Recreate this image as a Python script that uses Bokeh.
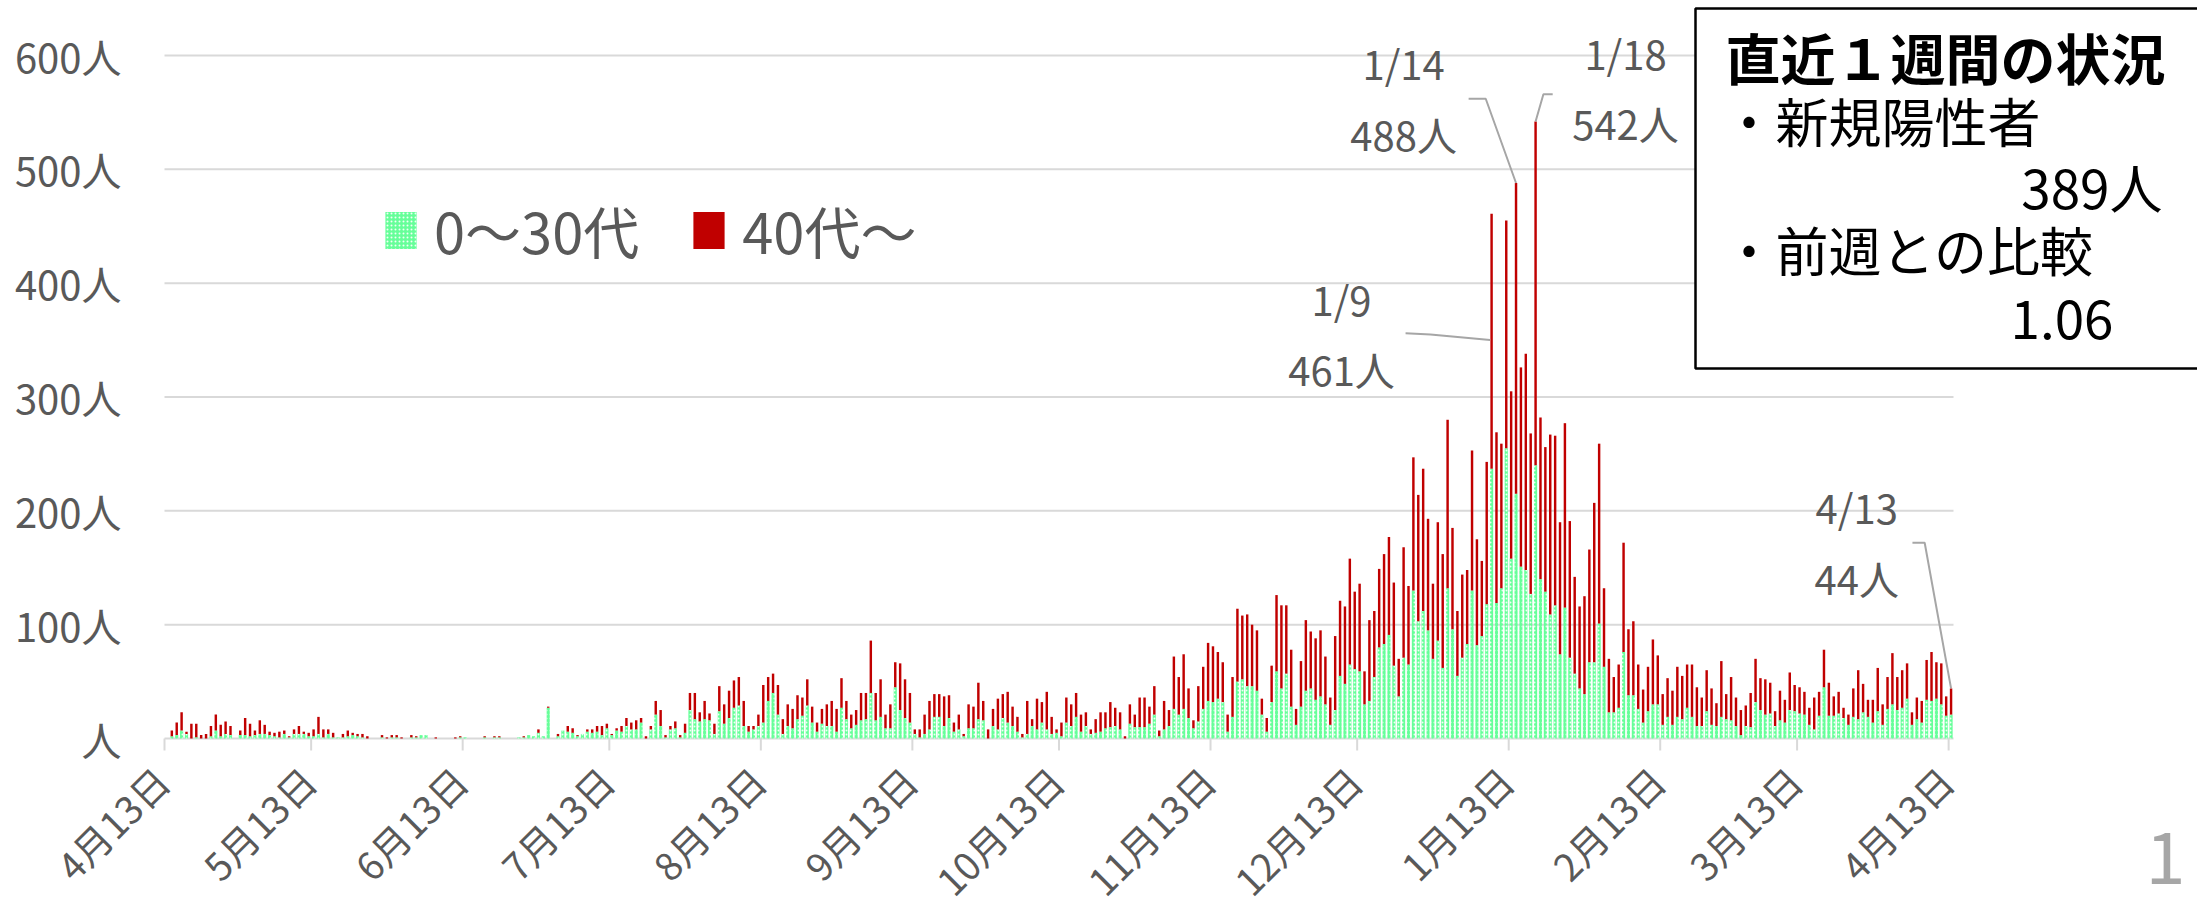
import math
import pandas as pd
from bokeh.plotting import figure
from bokeh.models import Range1d, Legend, LegendItem
from bokeh.core.properties import value
from bokeh.embed import file_html
from bokeh.resources import INLINE

# ---------------- data ----------------
start_date = "2020-04-13"

# daily total of new positives (bar top)
total = [
    0, 7, 14, 23, 6, 13, 13, 3, 4, 11,
    21, 12, 15, 11, 0, 7, 18, 13, 7, 16,
    12, 6, 5, 6, 7, 2, 8, 11, 6, 5,
    8, 19, 8, 8, 5, 1, 4, 7, 5, 4,
    4, 2, 0, 0, 3, 1, 3, 3, 1, 0,
    3, 2, 3, 3, 0, 1, 0, 0, 0, 1,
    2, 1, 0, 0, 0, 2, 0, 2, 2, 0,
    0, 0, 1, 2, 3, 2, 8, 2, 28, 0,
    4, 7, 11, 9, 3, 4, 8, 8, 11, 11,
    13, 4, 9, 11, 18, 14, 16, 18, 2, 11,
    33, 25, 3, 11, 15, 3, 13, 40, 40, 23,
    33, 22, 13, 46, 30, 42, 51, 54, 33, 11,
    11, 21, 47, 54, 57, 47, 17, 30, 26, 38,
    36, 52, 28, 14, 26, 30, 33, 26, 53, 33,
    21, 25, 40, 40, 86, 40, 52, 21, 30, 67,
    66, 52, 40, 8, 8, 21, 33, 39, 39, 37,
    38, 14, 21, 4, 30, 28, 49, 33, 8, 26,
    35, 39, 41, 28, 19, 4, 33, 17, 35, 32,
    41, 19, 8, 14, 36, 30, 40, 21, 23, 8,
    17, 23, 23, 32, 27, 23, 2, 30, 21, 36,
    36, 28, 46, 7, 33, 25, 72, 54, 74, 44,
    16, 46, 63, 84, 81, 76, 67, 21, 54, 114,
    108, 109, 100, 95, 35, 18, 64, 126, 117, 117,
    78, 26, 68, 104, 94, 88, 95, 72, 36, 90,
    121, 116, 158, 129, 136, 59, 104, 112, 149, 162,
    177, 137, 70, 168, 134, 247, 214, 237, 193, 136,
    190, 162, 280, 185, 112, 144, 148, 253, 175, 156,
    243, 461, 269, 259, 455, 305, 488, 326, 338, 268,
    542, 282, 256, 267, 266, 190, 277, 191, 142, 116,
    125, 166, 207, 259, 132, 70, 54, 65, 172, 96,
    103, 65, 43, 63, 87, 73, 39, 53, 42, 63,
    55, 65, 65, 45, 36, 60, 44, 31, 68, 39,
    54, 36, 25, 29, 40, 70, 53, 52, 49, 24,
    42, 34, 58, 47, 45, 41, 27, 36, 41, 78,
    49, 37, 41, 27, 21, 44, 60, 48, 34, 34,
    62, 30, 54, 75, 54, 60, 66, 23, 36, 33,
    69, 76, 67, 66, 37, 44,
]

# daily positives aged 0-30s (lower, green part of each bar)
under30 = [
    0, 2, 3, 7, 4, 0, 1, 0, 0, 2,
    7, 2, 4, 3, 0, 3, 3, 2, 3, 4,
    4, 3, 2, 1, 4, 1, 4, 4, 4, 2,
    2, 4, 1, 4, 1, 1, 1, 2, 3, 2,
    1, 0, 0, 0, 1, 0, 1, 1, 0, 0,
    1, 1, 3, 3, 0, 0, 0, 0, 0, 0,
    1, 1, 0, 0, 0, 1, 0, 1, 1, 0,
    0, 0, 1, 1, 3, 2, 5, 2, 27, 0,
    2, 7, 6, 5, 2, 4, 6, 5, 6, 3,
    9, 3, 7, 6, 11, 8, 8, 14, 0, 8,
    21, 11, 1, 8, 9, 1, 5, 25, 17, 15,
    17, 16, 4, 24, 13, 18, 27, 29, 11, 6,
    8, 11, 14, 33, 40, 21, 4, 11, 9, 17,
    20, 29, 14, 6, 13, 11, 11, 6, 27, 17,
    9, 12, 16, 17, 40, 16, 19, 9, 9, 45,
    25, 18, 14, 4, 1, 4, 8, 19, 19, 11,
    18, 6, 8, 2, 9, 9, 17, 16, 0, 11,
    8, 18, 14, 11, 6, 1, 4, 11, 8, 14,
    8, 4, 5, 2, 14, 11, 19, 6, 11, 4,
    5, 6, 9, 10, 11, 8, 0, 13, 10, 10,
    10, 13, 21, 2, 8, 11, 26, 21, 26, 18,
    9, 15, 26, 33, 32, 35, 32, 6, 19, 50,
    52, 46, 46, 42, 21, 6, 32, 59, 44, 57,
    28, 12, 28, 42, 44, 34, 37, 30, 12, 25,
    55, 48, 65, 61, 59, 30, 33, 54, 80, 83,
    91, 64, 37, 71, 65, 130, 103, 112, 95, 70,
    86, 62, 132, 96, 55, 71, 83, 130, 82, 90,
    118, 237, 119, 132, 255, 158, 215, 151, 148, 127,
    240, 140, 129, 109, 117, 74, 115, 71, 57, 44,
    39, 67, 67, 101, 63, 23, 23, 27, 76, 38,
    38, 26, 14, 24, 30, 30, 12, 19, 12, 19,
    17, 27, 19, 11, 11, 24, 12, 11, 19, 17,
    16, 11, 3, 11, 10, 32, 25, 21, 22, 11,
    16, 14, 25, 24, 22, 21, 12, 8, 20, 45,
    20, 20, 22, 18, 12, 19, 17, 23, 19, 14,
    24, 12, 26, 30, 25, 27, 35, 12, 17, 14,
    34, 33, 35, 30, 20, 21,
]

series_names = ["0～30代", "40代～"]

tick_dates = ["2020-04-13", "2020-05-13", "2020-06-13", "2020-07-13",
              "2020-08-13", "2020-09-13", "2020-10-13", "2020-11-13",
              "2020-12-13", "2021-01-13", "2021-02-13", "2021-03-13",
              "2021-04-13"]
tick_labels = ["4月13日", "5月13日", "6月13日", "7月13日", "8月13日",
               "9月13日", "10月13日", "11月13日", "12月13日", "1月13日",
               "2月13日", "3月13日", "4月13日"]

y_ticks = [0, 100, 200, 300, 400, 500, 600]
y_labels = ["人", "100人", "200人", "300人", "400人", "500人", "600人"]

callout_dates = ["2021-01-09", "2021-01-14", "2021-01-18", "2021-04-13"]
callout_date_text = ["1/9", "1/14", "1/18", "4/13"]
callout_count_text = ["461人", "488人", "542人", "44人"]

box_title = "直近１週間の状況"
box_lines = ["・新規陽性者", "389人", "・前週との比較", "1.06"]
page_number = "1"

# ---------------- styling / layout ----------------
FONT = "Noto Sans CJK JP"
GRAY = "#595959"
GREEN = "#66FF99"
RED = "#C00000"
GRID = "#D9D9D9"
LEADER = "#A6A6A6"

W, H = 2197, 906          # canvas
X0, Y0 = 164, 738         # canvas px of (day 0, value 0)
PXD = 4.888               # px per day
PXU = 683 / 600           # px per person


def dx(px):
    return (px - X0) / PXD


def dy(py):
    return (Y0 - py) / PXU


dates = pd.date_range(start_date, periods=len(total), freq="D")
t0 = dates[0]
xpos = [(d - t0).days + 0.5 for d in dates]
tick_pos = [(pd.Timestamp(d) - t0).days for d in tick_dates]
n_days = len(total)

p = figure(width=W, height=H, x_range=Range1d(dx(0), dx(W)),
           y_range=Range1d(dy(H), dy(0)), output_backend="svg",
           toolbar_location=None, x_axis_location=None, y_axis_location=None,
           min_border=0)
p.outline_line_color = None
p.background_fill_color = "white"
p.border_fill_color = "white"
p.grid.visible = False

# horizontal gridlines
grid_vals = y_ticks[1:]
p.segment(x0=[0] * len(grid_vals), x1=[n_days] * len(grid_vals),
          y0=grid_vals, y1=grid_vals, line_color=GRID, line_width=2)

# y tick labels
p.text(x=[dx(121)] * len(y_ticks), y=y_ticks, text=y_labels,
       text_align="right", text_baseline="middle",
       text_font=value(FONT), text_font_size=value("40px"), text_color=GRAY)

# x axis line, tick marks, tick labels
p.segment(x0=[0], x1=[n_days], y0=[0], y1=[0], line_color=GRID, line_width=2)
tick_len = 12 / PXU
p.segment(x0=tick_pos, x1=tick_pos, y0=[0] * len(tick_pos),
          y1=[-tick_len] * len(tick_pos), line_color=GRID, line_width=2)
p.text(x=[t - 3 / PXD for t in tick_pos], y=[-35 / PXU] * len(tick_pos),
       text=tick_labels, angle=math.pi / 4, text_align="right",
       text_baseline="middle", text_font=value(FONT),
       text_font_size=value("38px"), text_color=GRAY)

# stacked bars
g_r = p.vbar(x=xpos, top=under30, bottom=0, width=0.64, fill_color=GREEN,
             line_color=None, hatch_pattern="dot", hatch_color="white",
             hatch_scale=4, hatch_alpha=0.9)
r_r = p.vbar(x=xpos, top=total, bottom=under30, width=0.5, fill_color=RED,
             line_color=None)

# callouts
lab_x = [240.8, 253.5, 298.9, 346.2]
lab_y_date = [386, 593, 602, 203]
lab_y_count = [325, 531, 541, 141]
p.text(x=lab_x, y=lab_y_date, text=callout_date_text, text_align="center",
       text_baseline="middle", text_font=value(FONT),
       text_font_size=value("40px"), text_color=GRAY)
p.text(x=lab_x, y=lab_y_count, text=callout_count_text, text_align="center",
       text_baseline="middle", text_font=value(FONT),
       text_font_size=value("40px"), text_color=GRAY)

idx = [(pd.Timestamp(d) - t0).days for d in callout_dates]
bx = [xpos[i] for i in idx]
by = [total[i] for i in idx]
leaders_x = [[253.9, 259.0, bx[0] - 0.3], [266.8, 270.3, bx[1]],
             [284.0, 282.1, bx[2]], [357.6, 360.1, bx[3]]]
leaders_y = [[356, 355, 350], [562, 562, by[1]],
             [566, 566, by[2]], [172, 172, by[3]]]
p.multi_line(xs=leaders_x, ys=leaders_y, line_color=LEADER, line_width=2)

# summary box
p.quad(left=[dx(1695)], right=[dx(2210)], top=[dy(8)], bottom=[dy(368)],
       fill_color="white", line_color="black", line_width=2.5)
p.text(x=[dx(1725)], y=[dy(55)], text=[box_title], text_align="left",
       text_baseline="middle", text_font=value(FONT),
       text_font_style="bold", text_font_size=value("55px"),
       text_color="black")
p.text(x=[dx(1722), dx(2162), dx(1722), dx(2113)],
       y=[dy(119), dy(185), dy(248), dy(319)], text=box_lines,
       text_align=["left", "right", "left", "right"],
       text_baseline="middle", text_font=value(FONT),
       text_font_size=value("53px"), text_color="black")

# page number
p.text(x=[dx(2165)], y=[dy(857)], text=[page_number], text_align="center",
       text_baseline="middle", text_font=value(FONT),
       text_font_size=value("72px"), text_color="#A6A6A6")

# legend
legend = Legend(items=[LegendItem(label=series_names[0], renderers=[g_r]),
                       LegendItem(label=series_names[1], renderers=[r_r])],
                orientation="horizontal", location=(381, 636),
                glyph_width=39, glyph_height=46, label_standoff=14,
                spacing=50, padding=0, margin=0,
                label_text_font=FONT, label_text_font_size="56px",
                label_text_color=GRAY, border_line_color=None,
                background_fill_alpha=0)
p.add_layout(legend, "center")

open("out.html", "w").write(file_html(p, INLINE))
